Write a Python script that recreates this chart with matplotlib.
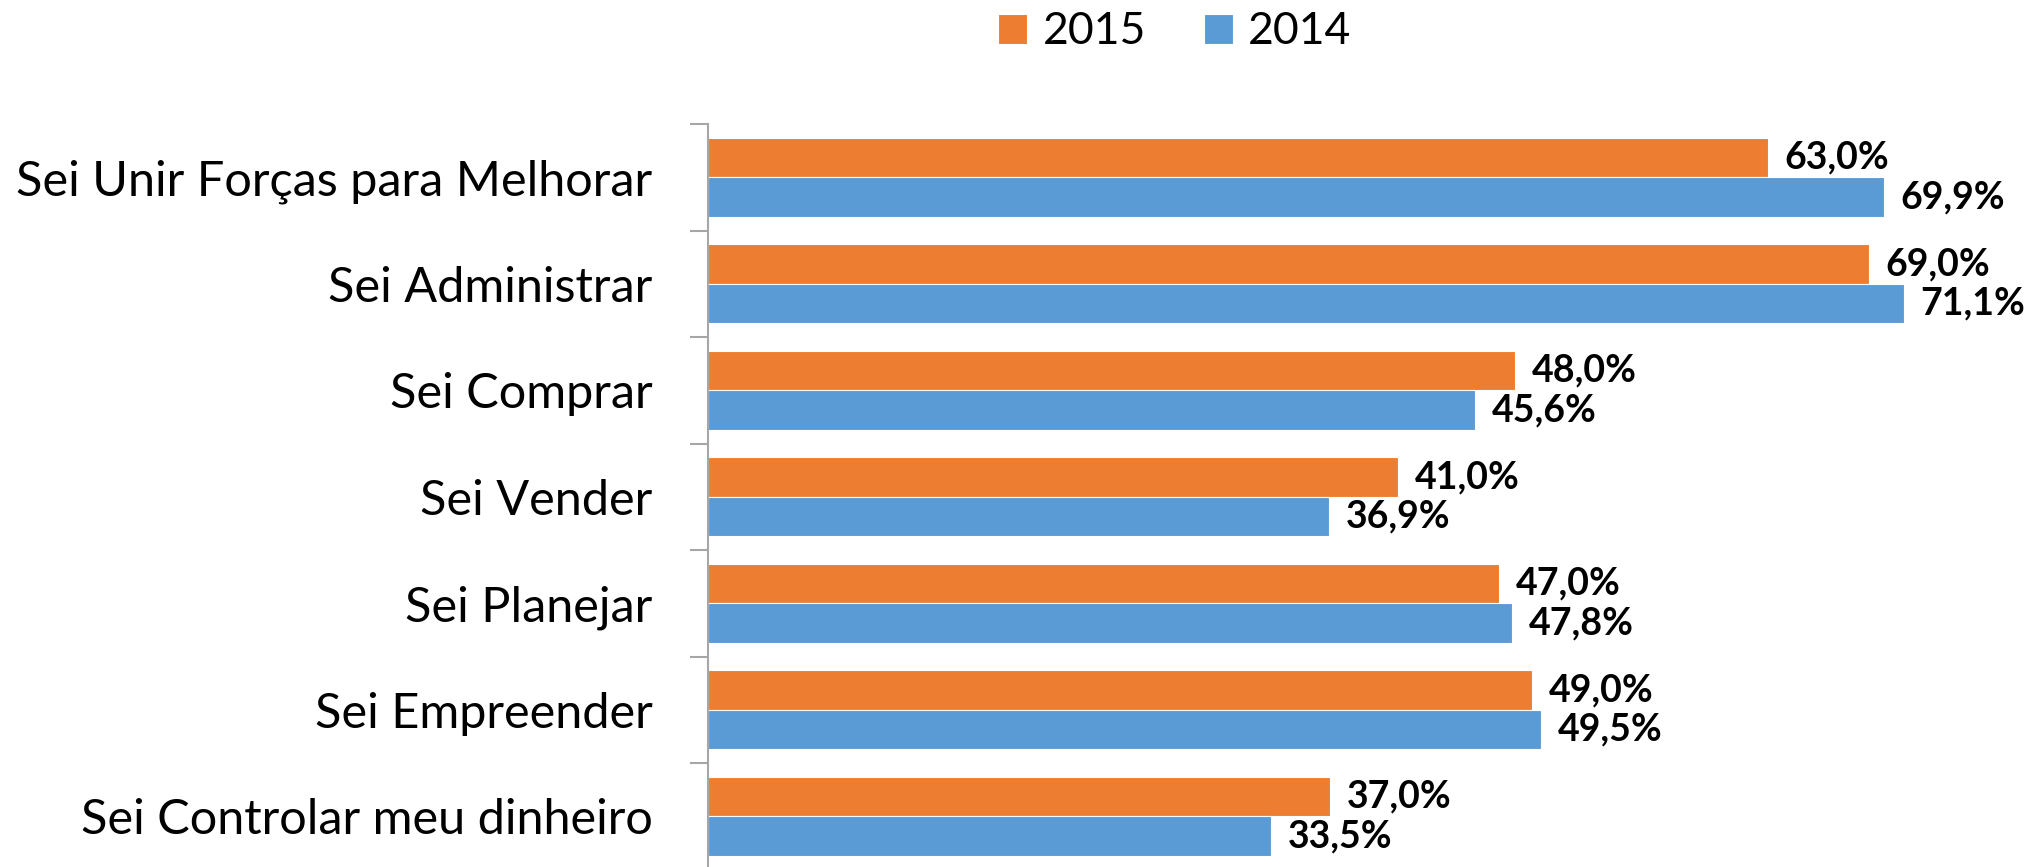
import matplotlib.pyplot as plt
import numpy as np

# dados
categorias = [
    "Sei Unir Forças para Melhorar",
    "Sei Administrar",
    "Sei Comprar",
    "Sei Vender",
    "Sei Planejar",
    "Sei Empreender",
    "Sei Controlar meu dinheiro",
]
valores_2015 = [63.0, 69.0, 48.0, 41.0, 47.0, 49.0, 37.0]
valores_2014 = [69.9, 71.1, 45.6, 36.9, 47.8, 49.5, 33.5]

COR_2015 = '#ED7D31'
COR_2014 = '#5B9BD5'

plt.rcParams['font.family'] = ['Lato', 'DejaVu Sans']

fig = plt.figure(figsize=(20.31, 8.67), dpi=100)
ax = fig.add_axes([708 / 2031, -2.5 / 867, 1 - 708 / 2031, (867 - 124 + 2.5) / 867])

y = np.arange(len(categorias))
h = 0.371

b15 = ax.barh(y - h / 2, valores_2015, height=h, color=COR_2015,
              edgecolor='white', linewidth=0.8, label='2015')
b14 = ax.barh(y + h / 2, valores_2014, height=h, color=COR_2014,
              edgecolor='white', linewidth=0.8, label='2014')

# rotulos de valor
for barras, vals in ((b15, valores_2015), (b14, valores_2014)):
    for b, v in zip(barras, vals):
        ax.text(b.get_width() + 1.0, b.get_y() + b.get_height() / 2,
                f"{v:.1f}%".replace('.', ','), ha='left', va='center',
                fontsize=27, fontweight='bold', color='black', clip_on=False)

ax.set_xlim(0, (2031 - 708) / 16.82)
ax.set_ylim(len(categorias) - 0.5, -0.5)

ax.set_yticks(y)
ax.set_yticklabels(categorias, fontsize=35)
ax.set_yticks(np.arange(len(categorias) + 1) - 0.5, minor=True)
ax.tick_params(axis='y', which='major', length=0, pad=40)
ax.tick_params(axis='y', which='minor', length=13, width=1.5, color='#A6A6A6')
ax.set_xticks([])

for s in ('top', 'right', 'bottom'):
    ax.spines[s].set_visible(False)
ax.spines['left'].set_color('#A6A6A6')
ax.spines['left'].set_linewidth(1.5)

fig.legend(handles=[b15, b14], labels=['2015', '2014'], loc='center',
           bbox_to_anchor=(1175 / 2031, 1 - 32 / 867), ncol=2, frameon=False,
           fontsize=32, handlelength=0.65, handleheight=0.65,
           handletextpad=0.35, columnspacing=1.3)

fig.savefig('out.png', dpi=100)
